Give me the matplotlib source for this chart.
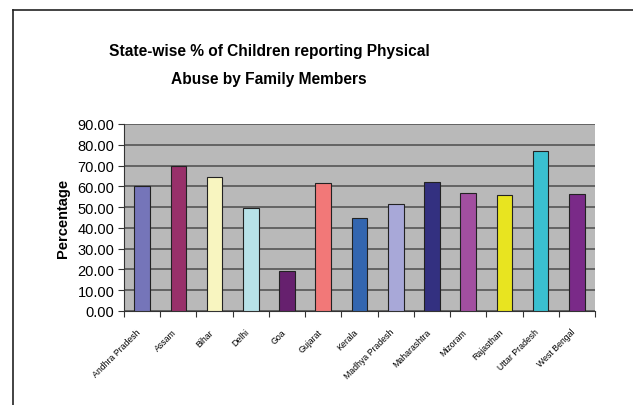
import matplotlib
matplotlib.use("Agg")
import matplotlib.pyplot as plt
from matplotlib.lines import Line2D
import matplotlib.transforms as mtransforms
import numpy as np

states = ["Andhra Pradesh", "Assam", "Bihar", "Delhi", "Goa", "Gujarat", "Kerala",
          "Madhya Pradesh", "Maharashtra", "Mizoram", "Rajasthan", "Uttar Pradesh", "West Bengal"]
values = [60.2, 69.6, 64.5, 49.4, 19.3, 61.6, 44.7, 51.3, 62.0, 56.6, 55.8, 77.0, 56.3]
colors = ["#7575b9", "#98306a", "#f8f5c0", "#b8e2e8", "#66206e", "#f27878", "#3366b0",
          "#a8a8d8", "#333080", "#a24fa0", "#e8e420", "#3ac0d0", "#7a2a88"]
yticks = [0, 10, 20, 30, 40, 50, 60, 70, 80, 90]

plt.rcParams['font.family'] = ['Liberation Sans', 'DejaVu Sans']

fig = plt.figure(figsize=(6.33, 4.06), dpi=100)
ax = fig.add_axes([124/633, 1-312/406, (595-124)/633, (312-125)/406])

x = np.arange(len(states))
ax.set_facecolor("#b9b9b9")
ax.set_axisbelow(True)
ax.yaxis.grid(True, color="#555555", linewidth=1.2)
ax.bar(x, values, width=0.43, color=colors, edgecolor="#222222", linewidth=0.8, zorder=3)

ax.set_xlim(-0.5, len(states) - 0.5)
ax.set_ylim(0, 90)
ax.set_yticks(yticks)
ax.set_yticklabels([f"{v:.2f}" for v in yticks], fontsize=10.5)
ax.set_xticks(np.arange(len(states) + 1) - 0.5)
ax.set_xticklabels([])
ax.set_xticks(x, minor=True)
ax.set_xticklabels(states, minor=True, rotation=45, ha="right", va="top",
                   fontsize=6.3, rotation_mode="anchor")
ax.tick_params(axis="x", which="minor", length=0, pad=11.5)
ax.tick_params(axis="x", which="major", length=4, color="#333333", direction="out")
ax.tick_params(axis="y", length=4, color="#333333", direction="out", pad=3)
shift = mtransforms.ScaledTranslation(-6/100, 0, fig.dpi_scale_trans)
for lbl in ax.get_xticklabels(minor=True):
    lbl.set_transform(lbl.get_transform() + shift)
for s in ["top", "right"]:
    ax.spines[s].set_visible(False)
ax.spines["left"].set_color("#333333")
ax.spines["bottom"].set_color("#333333")

ax.set_ylabel("Percentage", fontsize=10.5, fontweight="bold", labelpad=5)

fig.text(269/633, 1-65.5/406, "State-wise % of Children reporting Physical\nAbuse by Family Members",
         ha="center", va="center", fontsize=11.2,
         fontweight="bold", linespacing=2.05)

fig.add_artist(Line2D([13/633, 13/633], [0, 1-11/406], transform=fig.transFigure,
                      color="#222222", linewidth=1.2))
fig.add_artist(Line2D([13/633, 1], [1-11/406, 1-11/406], transform=fig.transFigure,
                      color="#222222", linewidth=1.2))

fig.savefig("out.png", dpi=100)
